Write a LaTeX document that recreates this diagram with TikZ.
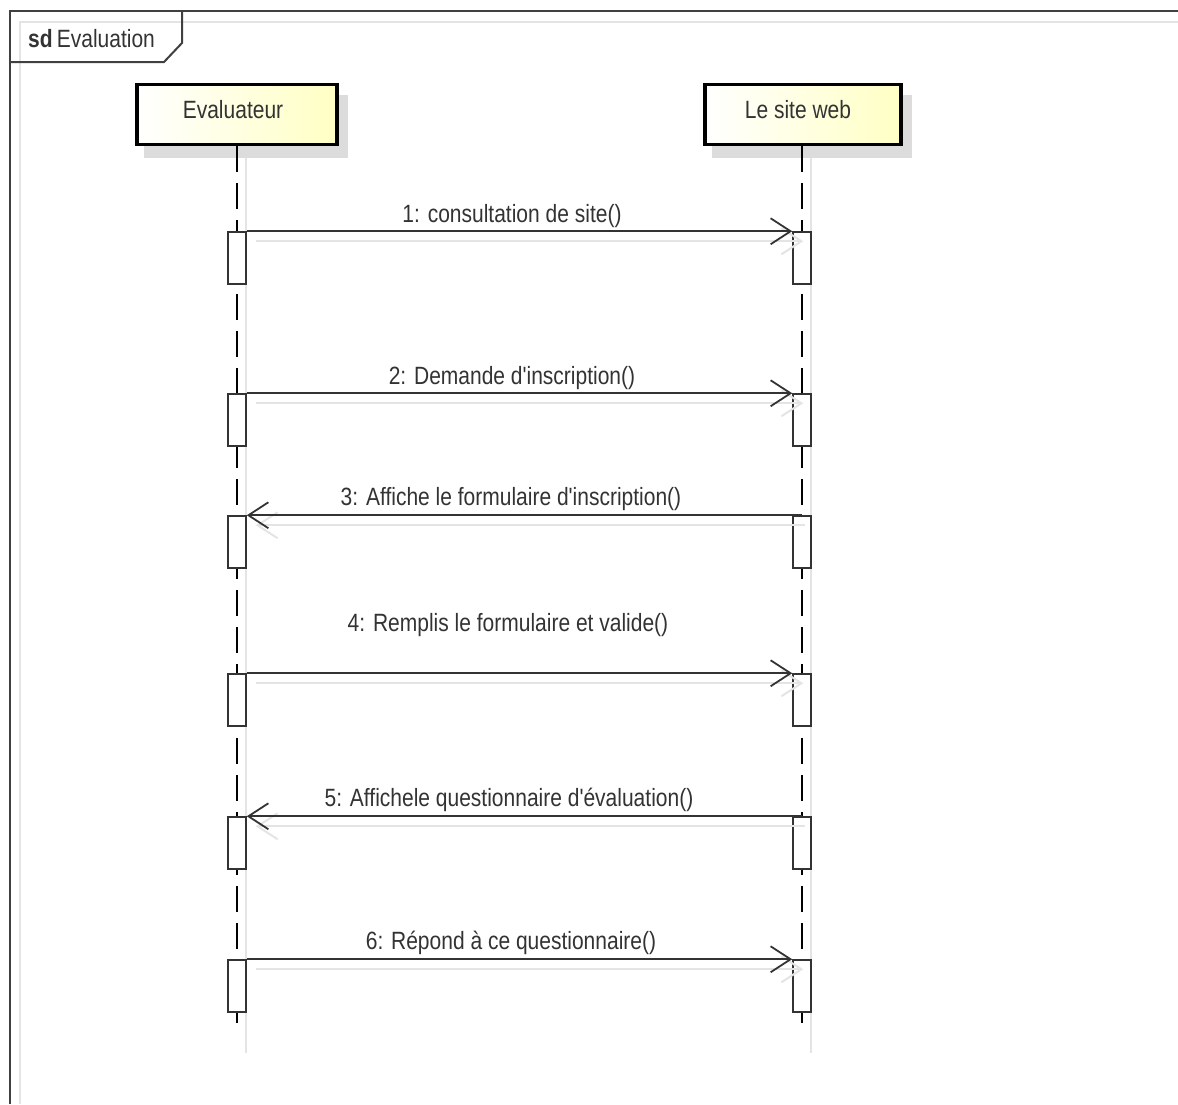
\documentclass[tikz,border=0pt]{standalone}
\usepackage{fontspec}
\setmainfont{Liberation Sans}[Ligatures=TeXOff]
\newfontfamily\umlfont{Liberation Sans}[Ligatures=TeXOff, FakeStretch=0.84]
\usetikzlibrary{arrows.meta,shadings}
\definecolor{ink}{HTML}{333333}
\definecolor{frameink}{HTML}{404040}
\definecolor{shade}{HTML}{DCDCDC}
\definecolor{faint}{HTML}{E4E4E4}
\definecolor{headyellow}{HTML}{FFFFC4}
\begin{document}
\begin{tikzpicture}[x=1pt,y=-1pt,
  txt/.style={font=\umlfont\fontsize{25}{29}\selectfont, text=ink, inner sep=0pt},
  head/.style={draw=black, line width=3.5pt, left color=white, right color=headyellow,
    minimum height=60pt, inner sep=0pt},
  headshadow/.style={fill=shade, draw=none, minimum height=63pt, inner sep=0pt},
  act/.style={draw=ink, line width=1.5pt, fill=white, minimum width=18pt,
    minimum height=52pt, inner sep=0pt},
  lifeline/.style={draw=black, line width=2pt, dash pattern=on 26pt off 11pt},
  echo/.style={draw=faint, line width=2pt},
  msg/.style={draw=ink, line width=1.8pt,
    -{Straight Barb[length=20pt,width=26pt,line width=1.8pt]}},
  msgecho/.style={draw=faint, line width=2pt,
    -{Straight Barb[length=20pt,width=26pt,line width=2pt]}},
]
\useasboundingbox (0,0) rectangle (1178,1104);

% diagram frame with its faint inner echo
\draw[faint, line width=2pt] (20,1104) -- (20,22) -- (1178,22);
\draw[frameink, line width=2pt] (10,1104) -- (10,11) -- (1178,11);
\draw[frameink, line width=2pt] (10,62) -- (164,62) -- (182,43) -- (182,11);
\node[txt, anchor=base west] (title) at (28,47) {\textbf{sd}\,Evaluation};

% lifeline heads
\node[headshadow, minimum width=204pt] (evalshadow) at (246,126) {};
\node[headshadow, minimum width=200pt] (siteshadow) at (812,126) {};
\node[head, minimum width=200pt] (eval) at (237,114.5) {};
\node[head, minimum width=196pt] (site) at (803,114.5) {};
\node[txt] (evalname) at (233,110) {Evaluateur};
\node[txt] (sitename) at (798,110) {Le site web};

% lifeline ends
\coordinate (evalend) at (237,1031);
\coordinate (siteend) at (802,1031);
\coordinate (evalechoend) at (246,1053);
\coordinate (siteechoend) at (811,1053);

% lifelines and their faint echoes
\draw[echo] (evalshadow.south -| evalechoend) -- (evalechoend);
\draw[echo] (siteshadow.south -| siteechoend) -- (siteechoend);
\draw[lifeline] (eval.south) -- (evalend);
\draw[lifeline] (site.south -| siteend) -- (siteend);

% activation bars
\foreach \k/\y in {1/232,2/394,3/516,4/674,5/817,6/960}{
  \node[act] (a\k) at (237,\y+26) {};
  \node[act] (b\k) at (802,\y+26) {};
}

% messages: evaluator to site
\foreach \k in {1,2,4,6}{
  \draw[msgecho] ([shift={(9,10)}]a\k.north east) -- ([shift={(11,10)}]b\k.north west);
  \draw[msg] (a\k.north east) -- (b\k.north west);
}
% messages: site to evaluator
\foreach \k in {3,5}{
  \draw[msgecho] ([shift={(3,10)}]b\k.north) -- ([shift={(9,10)}]a\k.north east);
  \draw[msg] (b\k.north) -- (a\k.north east);
}

% message labels
\node[txt] (m1) at (512,216) {1: consultation de site()};
\node[txt] (m2) at (512,378) {2: Demande d'inscription()};
\node[txt] (m3) at (511,499) {3: Affiche le formulaire d'inscription()};
\node[txt] (m4) at (508,625) {4: Remplis le formulaire et valide()};
\node[txt] (m5) at (509,800) {5: Affichele questionnaire d'évaluation()};
\node[txt] (m6) at (511,943) {6: Répond à ce questionnaire()};
\end{tikzpicture}
\end{document}
